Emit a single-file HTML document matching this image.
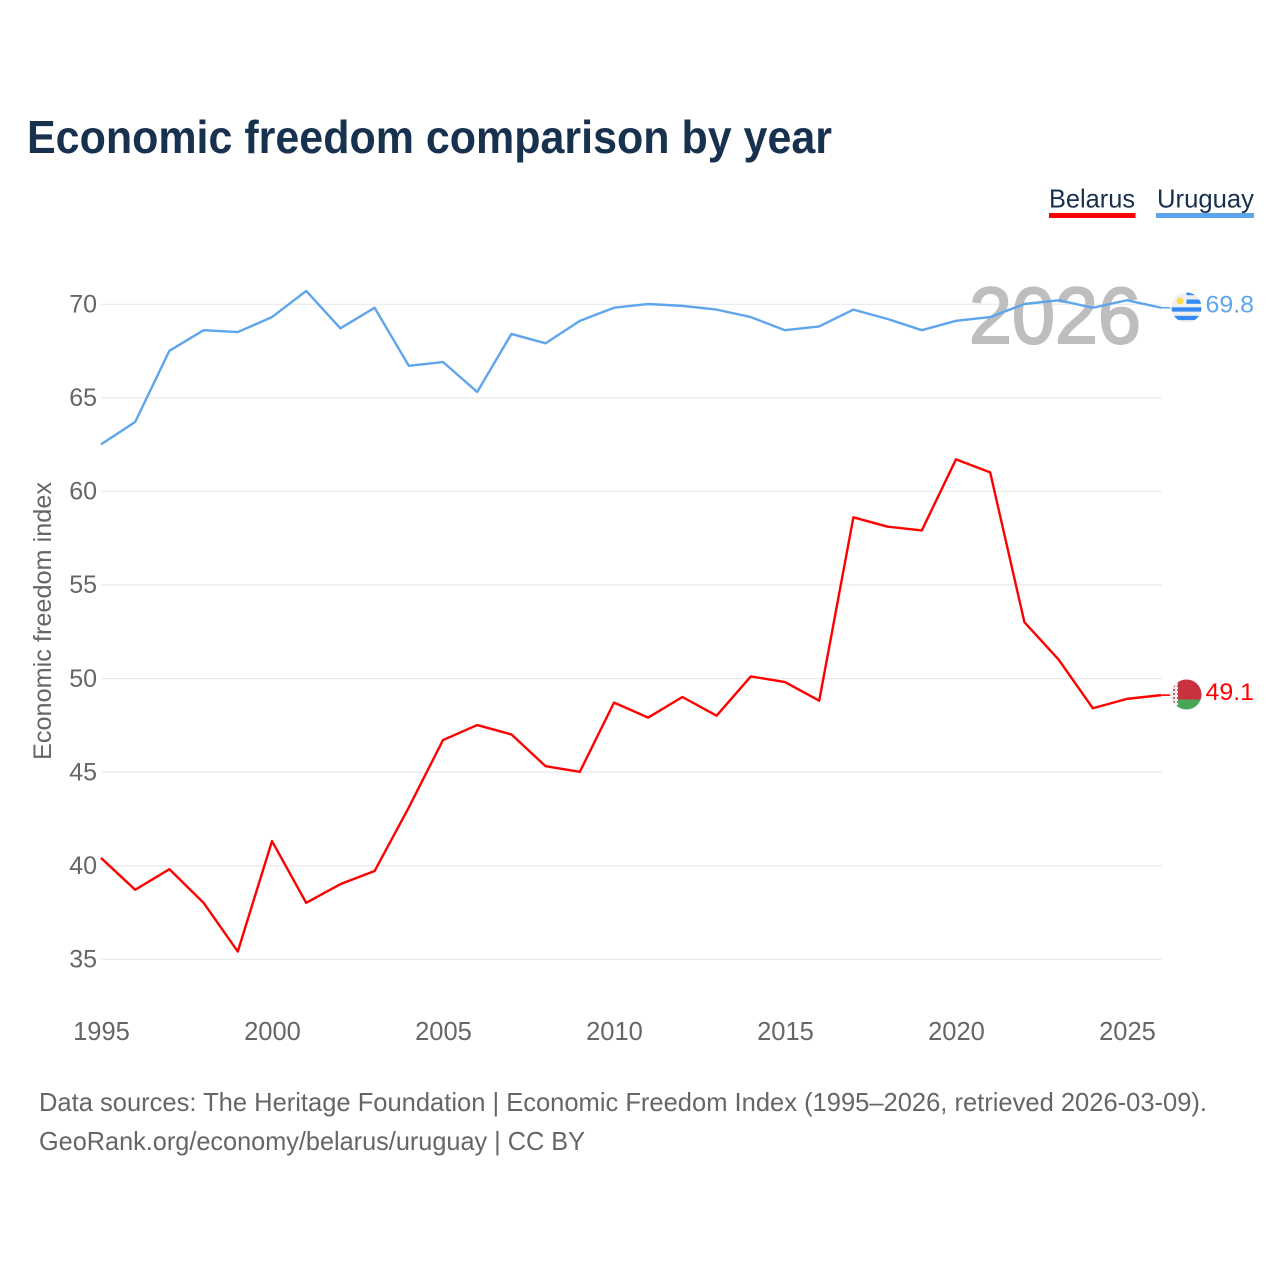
<!DOCTYPE html>
<html>
<head>
<meta charset="utf-8">
<title>Economic freedom comparison by year</title>
<style>
html,body{margin:0;padding:0;background:#fff;}
svg{display:block;font-family:"Liberation Sans",sans-serif;}
</style>
</head>
<body>
<svg id="chart" width="1280" height="1280" viewBox="0 0 1280 1280" xmlns="http://www.w3.org/2000/svg">
  <defs>
    <clipPath id="clip-uy"><circle cx="1186.5" cy="307.5" r="15"/></clipPath>
    <clipPath id="clip-by"><circle cx="1186.5" cy="694.5" r="15"/></clipPath>
    <pattern id="by-orn" width="4" height="4" patternUnits="userSpaceOnUse"><rect width="4" height="4" fill="#f0f0f0"/><rect x="1" y="1" width="2" height="2" fill="#d0606a"/></pattern>
  </defs>
  <rect width="1280" height="1280" fill="#fff"/>
  <text x="27" y="153" font-size="46" font-weight="bold" fill="#18314f" textLength="805" lengthAdjust="spacingAndGlyphs">Economic freedom comparison by year</text>

  <g>
    <text x="1049" y="207.5" font-size="26" fill="#18314f" textLength="86" lengthAdjust="spacingAndGlyphs">Belarus</text>
    <rect x="1049" y="213" width="86.5" height="5" fill="#ff0000"/>
  </g>
  <g>
    <text x="1157" y="207.5" font-size="26" fill="#18314f" textLength="97" lengthAdjust="spacingAndGlyphs">Uruguay</text>
    <rect x="1156" y="213" width="98" height="5" fill="#5ea5ec"/>
  </g>

  <g id="grid"></g>
  <g id="ylabels"></g>
  <g id="xlabels"></g>

  <text transform="translate(51,621) rotate(-90)" text-anchor="middle" font-size="25" fill="#666" textLength="278" lengthAdjust="spacingAndGlyphs">Economic freedom index</text>

  <text x="969" y="343" font-size="80" fill="#bebebe" stroke="#bebebe" stroke-width="2" textLength="172" lengthAdjust="spacingAndGlyphs">2026</text>

  <g id="series"></g>

  <g clip-path="url(#clip-uy)">
    <rect x="1171" y="292" width="31" height="31" fill="#f0f0f0"/>
    <rect x="1186.5" y="292" width="16" height="3.2" fill="#338af3"/>
    <rect x="1186.5" y="299.5" width="16" height="4.3" fill="#338af3"/>
    <rect x="1171" y="307.3" width="31" height="4.3" fill="#338af3"/>
    <rect x="1171" y="315.8" width="31" height="4.3" fill="#338af3"/>
    <circle cx="1180" cy="301" r="3.4" fill="#ffda44"/>
  </g>
  <g clip-path="url(#clip-by)">
    <rect x="1171" y="679" width="31" height="21" fill="#c8313e"/>
    <rect x="1171" y="699.5" width="31" height="11" fill="#4aa657"/>
    <rect x="1171" y="679" width="7" height="32" fill="url(#by-orn)"/>
  </g>

  <text x="1205.5" y="312.5" font-size="24.5" fill="#5ea5ec" textLength="48.5" lengthAdjust="spacingAndGlyphs">69.8</text>
  <text x="1205.5" y="700" font-size="24.5" fill="#ff0000" textLength="48.5" lengthAdjust="spacingAndGlyphs">49.1</text>

  <text x="39" y="1111" font-size="26" fill="#666" textLength="1168" lengthAdjust="spacingAndGlyphs">Data sources: The Heritage Foundation | Economic Freedom Index (1995–2026, retrieved 2026-03-09).</text>
  <text x="39" y="1150" font-size="26" fill="#666" textLength="546" lengthAdjust="spacingAndGlyphs">GeoRank.org/economy/belarus/uruguay | CC BY</text>
</svg>
<script>
const years = [1995,1996,1997,1998,1999,2000,2001,2002,2003,2004,2005,2006,2007,2008,2009,2010,2011,2012,2013,2014,2015,2016,2017,2018,2019,2020,2021,2022,2023,2024,2025,2026];
const belarusValues = [40.4,38.7,39.8,38.0,35.4,41.3,38.0,39.0,39.7,43.1,46.7,47.5,47.0,45.3,45.0,48.7,47.9,49.0,48.0,50.1,49.8,48.8,58.6,58.1,57.9,61.7,61.0,53.0,51.0,48.4,48.9,49.1];
const uruguayValues = [62.5,63.7,67.5,68.6,68.5,69.3,70.7,68.7,69.8,66.7,66.9,65.3,68.4,67.9,69.1,69.8,70.0,69.9,69.7,69.3,68.6,68.8,69.7,69.2,68.6,69.1,69.3,70.0,70.2,69.8,70.2,69.8];
const yTicks = [35,40,45,50,55,60,65,70];
const xTicks = [1995,2000,2005,2010,2015,2020,2025];

const NS = 'http://www.w3.org/2000/svg';
function xScale(year){ return 101 + (year - 1995) * (1161.2 - 101) / 31; }
function yScale(v){ return 959 - (v - 35) * (959 - 304) / 35; }

const grid = document.getElementById('grid');
const ylabels = document.getElementById('ylabels');
const xlabels = document.getElementById('xlabels');
const seriesGroup = document.getElementById('series');

yTicks.forEach(function(t){
  const line = document.createElementNS(NS, 'line');
  
  
  line.setAttribute('x1', 101.5);
  line.setAttribute('x2', 1161.7);
  line.setAttribute('y1', yScale(t) + 0.3);
  line.setAttribute('y2', yScale(t) + 0.3);
  line.setAttribute('stroke', '#e9e9e9');
  line.setAttribute('stroke-width', '1.2');
  grid.appendChild(line);

  const label = document.createElementNS(NS, 'text');
  
  
  label.setAttribute('x', 97);
  label.setAttribute('y', yScale(t) + 8.5);
  label.setAttribute('text-anchor', 'end');
  label.setAttribute('font-size', '25');
  label.setAttribute('fill', '#666');
  label.textContent = t;
  ylabels.appendChild(label);
});

xTicks.forEach(function(t){
  const label = document.createElementNS(NS, 'text');
  
  
  label.setAttribute('x', xScale(t) + 0.5);
  label.setAttribute('y', 1040);
  label.setAttribute('text-anchor', 'middle');
  label.setAttribute('font-size', '25.5');
  label.setAttribute('fill', '#666');
  label.textContent = t;
  xlabels.appendChild(label);
});

function seriesPoints(values){
  return values.map(function(v, i){
    return xScale(years[i]).toFixed(2) + ',' + yScale(v).toFixed(2);
  }).join(' ');
}

const uruguayLine = document.createElementNS(NS, 'polyline');


uruguayLine.setAttribute('points', seriesPoints(uruguayValues));
uruguayLine.setAttribute('fill', 'none');
uruguayLine.setAttribute('stroke', '#5ea5ec');
uruguayLine.setAttribute('stroke-width', '2.4');
uruguayLine.setAttribute('stroke-linejoin', 'round');
seriesGroup.appendChild(uruguayLine);

const belarusLine = document.createElementNS(NS, 'polyline');


belarusLine.setAttribute('points', seriesPoints(belarusValues));
belarusLine.setAttribute('fill', 'none');
belarusLine.setAttribute('stroke', '#ff0000');
belarusLine.setAttribute('stroke-width', '2.4');
belarusLine.setAttribute('stroke-linejoin', 'round');
seriesGroup.appendChild(belarusLine);

const uruguayConnector = document.createElementNS(NS, 'line');


uruguayConnector.setAttribute('x1', xScale(2026));
uruguayConnector.setAttribute('x2', xScale(2026) + 9);
uruguayConnector.setAttribute('y1', yScale(uruguayValues[31]));
uruguayConnector.setAttribute('y2', yScale(uruguayValues[31]));
uruguayConnector.setAttribute('stroke', '#5ea5ec');
uruguayConnector.setAttribute('stroke-width', '1.6');
seriesGroup.appendChild(uruguayConnector);

const belarusConnector = document.createElementNS(NS, 'line');


belarusConnector.setAttribute('x1', xScale(2026));
belarusConnector.setAttribute('x2', xScale(2026) + 9);
belarusConnector.setAttribute('y1', yScale(belarusValues[31]));
belarusConnector.setAttribute('y2', yScale(belarusValues[31]));
belarusConnector.setAttribute('stroke', '#ff0000');
belarusConnector.setAttribute('stroke-width', '1.6');
seriesGroup.appendChild(belarusConnector);
</script>
</body>
</html>
